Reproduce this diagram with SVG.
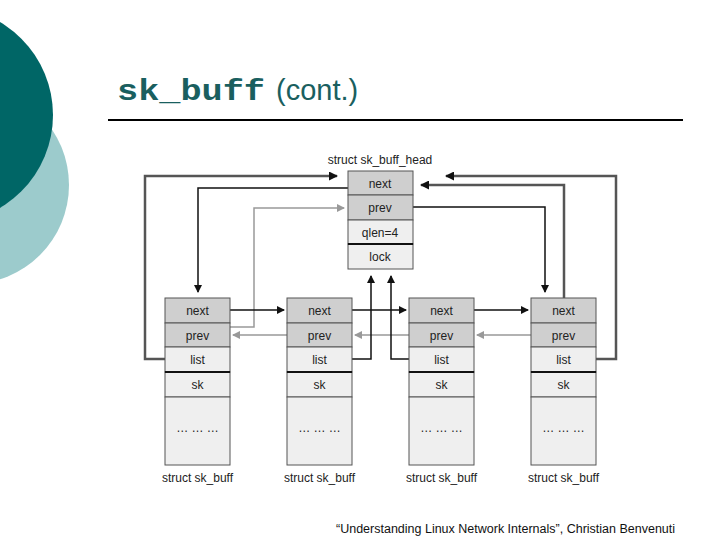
<svg xmlns="http://www.w3.org/2000/svg" width="720" height="540" viewBox="0 0 720 540">
<defs>
<style>
.c{stroke:#555;stroke-width:1}
.d{fill:#cfcfcf}.l{fill:#efefef}
.t{font-family:"Liberation Sans",sans-serif;font-size:12px;fill:#222;text-anchor:middle}
.k{fill:none;stroke:#111;stroke-width:1.5}
.g{fill:none;stroke:#999;stroke-width:1.5}
.m{fill:none;stroke:#555;stroke-width:2.5}
</style>
<marker id="ak" markerWidth="8" markerHeight="8" refX="7" refY="4" orient="auto" markerUnits="userSpaceOnUse"><path d="M0,0L8,4L0,8z" fill="#111"/></marker>
<marker id="ag" markerWidth="8" markerHeight="8" refX="7" refY="4" orient="auto" markerUnits="userSpaceOnUse"><path d="M0,0L8,4L0,8z" fill="#999"/></marker>
<marker id="am" markerWidth="9" markerHeight="9" refX="8" refY="4.5" orient="auto" markerUnits="userSpaceOnUse"><path d="M0,0L9,4.5L0,9z" fill="#111"/></marker>
</defs>
<rect width="720" height="540" fill="#fff"/>
<circle cx="-30" cy="185" r="99" fill="#9ccbcc"/>
<circle cx="-55" cy="115" r="108" fill="#006666"/>
<text x="117" y="100" font-family="Liberation Mono,monospace" font-size="30" font-weight="bold" fill="#1a5f5f" textLength="148" lengthAdjust="spacingAndGlyphs">sk_buff</text>
<text x="276" y="100" font-family="Liberation Sans,sans-serif" font-size="29" fill="#1a5f5f">(cont.)</text>
<line x1="108" y1="120" x2="683" y2="120" stroke="#000" stroke-width="2"/>
<g id="connectors">
<path class="m" d="M165,359H145V176H337" marker-end="url(#am)"/>
<path class="k" d="M348,188H198V292" marker-end="url(#ak)"/>
<path class="g" d="M230,327H254V208H344" marker-end="url(#ag)"/>
<path class="k" d="M230,310H284" marker-end="url(#ak)"/>
<path class="k" d="M352,310H406" marker-end="url(#ak)"/>
<path class="k" d="M474,310H528" marker-end="url(#ak)"/>
<path class="g" d="M287,335H233" marker-end="url(#ag)"/>
<path class="g" d="M409,335H355" marker-end="url(#ag)"/>
<path class="g" d="M531,335H477" marker-end="url(#ag)"/>
<path class="k" d="M352,359H371V276" marker-end="url(#ak)"/>
<path class="k" d="M409,359H391V276" marker-end="url(#ak)"/>
<path class="k" d="M413,207H545V292" marker-end="url(#ak)"/>
<path class="m" d="M564,298V185H421" marker-end="url(#am)"/>
<path class="m" d="M596,359H616V176H446" marker-end="url(#am)"/>
</g>
<g id="head">
<text class="t" x="380" y="164">struct sk_buff_head</text>
<rect class="d c" x="348" y="171" width="65" height="24"/><text class="t" x="380" y="188">next</text>
<rect class="d c" x="348" y="195" width="65" height="25"/><text class="t" x="380" y="212">prev</text>
<rect class="l c" x="348" y="220" width="65" height="24"/><text class="t" x="380" y="237">qlen=4</text>
<rect class="l c" x="348" y="244" width="65" height="25"/><text class="t" x="380" y="261">lock</text>
<line x1="348" y1="244" x2="413" y2="244" stroke="#111" stroke-width="2"/>
</g>
<g id="buf1" transform="translate(165,0)">
<rect class="d c" x="0" y="298" width="65" height="25"/><text class="t" x="32.5" y="315">next</text>
<rect class="d c" x="0" y="323" width="65" height="24"/><text class="t" x="32.5" y="340">prev</text>
<rect class="l c" x="0" y="347" width="65" height="25"/><text class="t" x="32.5" y="364">list</text>
<rect class="l c" x="0" y="372" width="65" height="25"/><text class="t" x="32.5" y="389">sk</text>
<rect class="l c" x="0" y="397" width="65" height="68"/><text class="t" x="32.5" y="432">… … …</text>
<line x1="0" y1="372" x2="65" y2="372" stroke="#111" stroke-width="2"/>
<text class="t" x="32.5" y="482">struct sk_buff</text>
</g>
<g id="buf2" transform="translate(287,0)">
<rect class="d c" x="0" y="298" width="65" height="25"/><text class="t" x="32.5" y="315">next</text>
<rect class="d c" x="0" y="323" width="65" height="24"/><text class="t" x="32.5" y="340">prev</text>
<rect class="l c" x="0" y="347" width="65" height="25"/><text class="t" x="32.5" y="364">list</text>
<rect class="l c" x="0" y="372" width="65" height="25"/><text class="t" x="32.5" y="389">sk</text>
<rect class="l c" x="0" y="397" width="65" height="68"/><text class="t" x="32.5" y="432">… … …</text>
<line x1="0" y1="372" x2="65" y2="372" stroke="#111" stroke-width="2"/>
<text class="t" x="32.5" y="482">struct sk_buff</text>
</g>
<g id="buf3" transform="translate(409,0)">
<rect class="d c" x="0" y="298" width="65" height="25"/><text class="t" x="32.5" y="315">next</text>
<rect class="d c" x="0" y="323" width="65" height="24"/><text class="t" x="32.5" y="340">prev</text>
<rect class="l c" x="0" y="347" width="65" height="25"/><text class="t" x="32.5" y="364">list</text>
<rect class="l c" x="0" y="372" width="65" height="25"/><text class="t" x="32.5" y="389">sk</text>
<rect class="l c" x="0" y="397" width="65" height="68"/><text class="t" x="32.5" y="432">… … …</text>
<line x1="0" y1="372" x2="65" y2="372" stroke="#111" stroke-width="2"/>
<text class="t" x="32.5" y="482">struct sk_buff</text>
</g>
<g id="buf4" transform="translate(531,0)">
<rect class="d c" x="0" y="298" width="65" height="25"/><text class="t" x="32.5" y="315">next</text>
<rect class="d c" x="0" y="323" width="65" height="24"/><text class="t" x="32.5" y="340">prev</text>
<rect class="l c" x="0" y="347" width="65" height="25"/><text class="t" x="32.5" y="364">list</text>
<rect class="l c" x="0" y="372" width="65" height="25"/><text class="t" x="32.5" y="389">sk</text>
<rect class="l c" x="0" y="397" width="65" height="68"/><text class="t" x="32.5" y="432">… … …</text>
<line x1="0" y1="372" x2="65" y2="372" stroke="#111" stroke-width="2"/>
<text class="t" x="32.5" y="482">struct sk_buff</text>
</g>
<text x="336" y="533" font-family="Liberation Sans,sans-serif" font-size="12.5" fill="#111">“Understanding Linux Network Internals”, Christian Benvenuti</text>
</svg>
